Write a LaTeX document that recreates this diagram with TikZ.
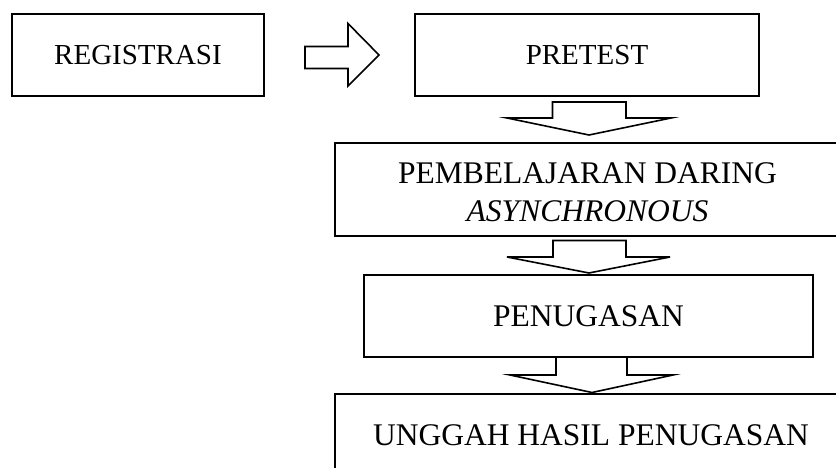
\documentclass[tikz,border=0pt]{standalone}
\usepackage{fontspec}
\setmainfont{Liberation Serif}
\begin{document}
\begin{tikzpicture}[x=1pt,y=-1pt,
  stepbox/.style={draw=black,line width=1.8pt,inner sep=0pt,align=center,
    font=\fontsize{31.5}{38}\selectfont},
  topbox/.style={stepbox,font=\fontsize{29}{36}\selectfont},
  blockarrow/.style={draw=black,line width=1.6pt,fill=white,line join=miter}]
\useasboundingbox (0,0) rectangle (836,468);
\clip (0,0) rectangle (836,468);
% boxes
\node[topbox,minimum width=252pt,minimum height=82pt] (reg) at (138,55) {REGISTRASI};
\node[topbox,minimum width=344pt,minimum height=82pt] (pre) at (587,55) {PRETEST};
\node[stepbox,minimum width=505pt,minimum height=93pt] (pem) at (587.5,189.5) {};
\node[font=\fontsize{31.5}{38}\selectfont,align=center,inner sep=0pt] (pemtxt) at (587.5,192.5) {PEMBELAJARAN DARING\\\textit{ASYNCHRONOUS}};
\node[stepbox,minimum width=449pt,minimum height=82pt] (pen) at (588.5,316) {PENUGASAN};
\node[stepbox,minimum width=512pt,minimum height=82pt] (ung) at (591,435) {UNGGAH HASIL PENUGASAN};
% block arrows
\draw[blockarrow] (305,46.5) -- (348,46.5) -- (348,23.5) -- (379,55) -- (348,86) -- (348,68.5) -- (305,68.5) -- cycle;
\draw[blockarrow] (552.5,102) -- (626,102) -- (626,118) -- (671,118) -- (589,135) -- (507,118) -- (552.5,118) -- cycle;
\draw[blockarrow] (553,240.5) -- (626,240.5) -- (626,257) -- (670,257) -- (589,273) -- (507,257) -- (553,257) -- cycle;
\draw[blockarrow] (556,357) -- (627,357) -- (627,375) -- (673,375) -- (592,392.5) -- (510,375) -- (556,375) -- cycle;
\end{tikzpicture}
\end{document}
